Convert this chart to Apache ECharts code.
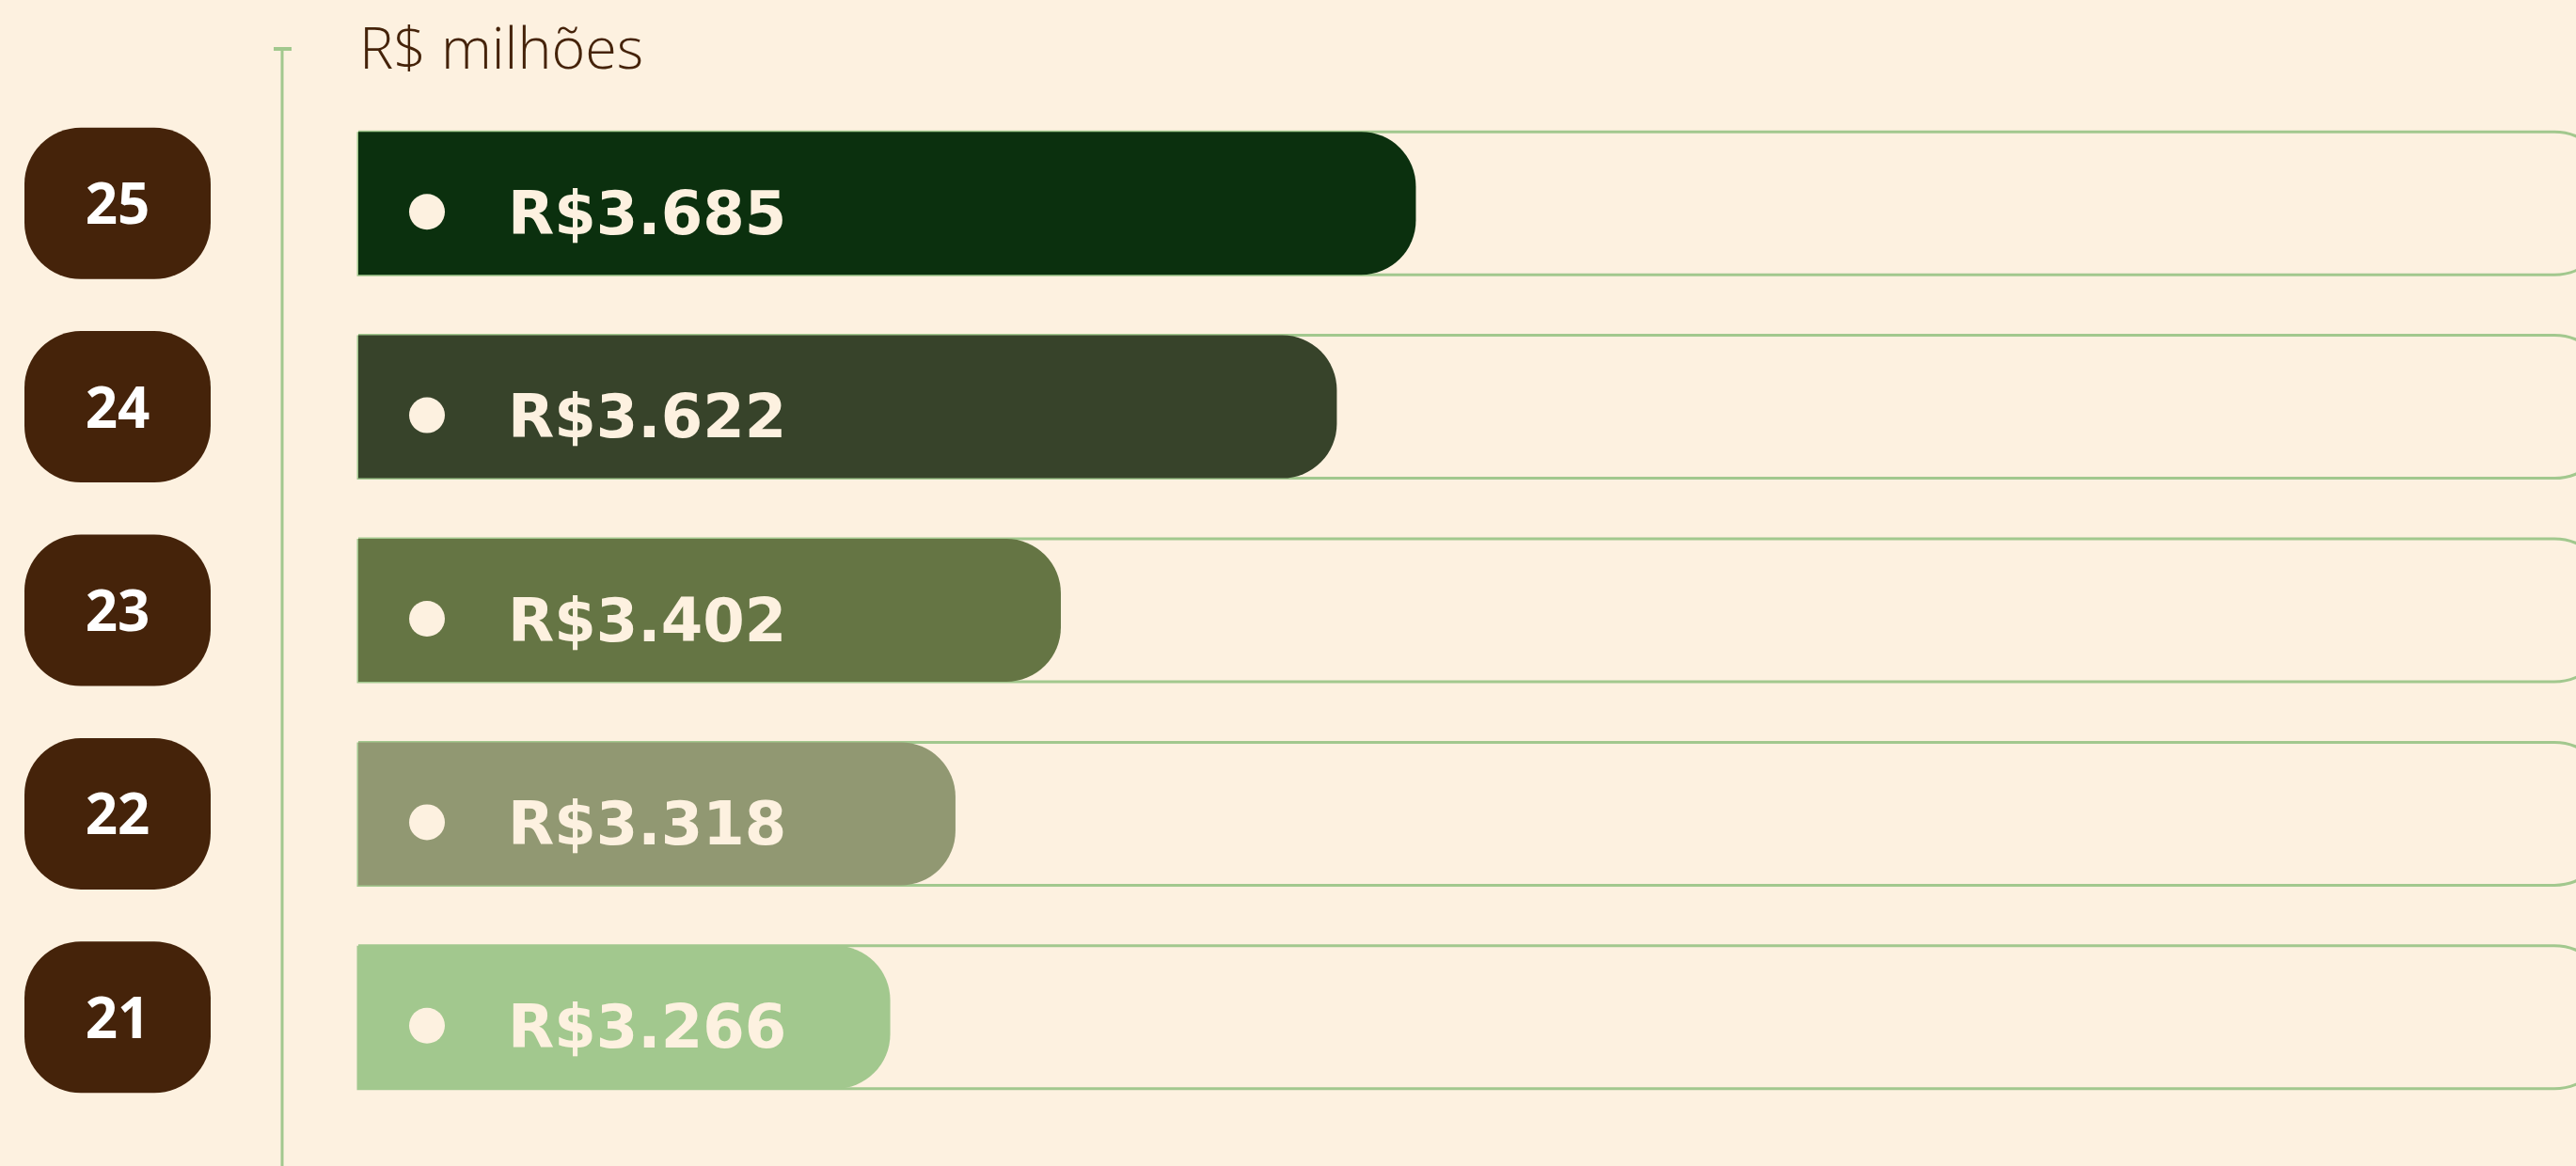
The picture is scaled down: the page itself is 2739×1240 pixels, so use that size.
<!DOCTYPE html>
<html>
<head>
<meta charset="utf-8">
<script src="https://cdn.jsdelivr.net/npm/echarts@6/dist/echarts.min.js"></script>
<style>
html,body{margin:0;padding:0;background:#fdf1e0;overflow:hidden;width:2739px;height:1240px;}
#c{width:2774px;height:1240px;}
</style>
</head>
<body>
<div id="c"></div>
<script>
// Data (bottom to top)
const categories = ['21', '22', '23', '24', '25'];
const values = [3266, 3318, 3402, 3622, 3685];
const barColors = ['#a2c88e', '#919872', '#657544', '#37432a', '#0b300e'];
const unitLabel = 'R$ milhões';

const bg = '#fdf1e0';
const green = '#a2c88e';
const brown = '#45230a';

function fmt(v) {
  return 'R$' + String(v).replace(/\B(?=(\d{3})+(?!\d))/g, '.');
}

const chart = echarts.init(document.getElementById('c'));
chart.setOption({
  backgroundColor: bg,
  animation: false,
  title: {
    text: unitLabel,
    left: 382,
    top: 25,
    padding: 0,
    textStyle: {
      fontFamily: 'Open Sans',
      fontWeight: 300,
      fontSize: 61,
      color: brown
    }
  },
  graphic: [
    { type: 'line', shape: { x1: 300, y1: 52, x2: 300, y2: 1240 }, style: { stroke: green, lineWidth: 3 } },
    { type: 'line', shape: { x1: 291, y1: 52, x2: 310, y2: 52 }, style: { stroke: green, lineWidth: 4 } }
  ],
  grid: { left: 381, right: 0, top: 108, bottom: 50, containLabel: false, outerBoundsMode: 'none' },
  xAxis: {
    type: 'value',
    min: 2842,
    max: 4636,
    show: false
  },
  yAxis: {
    type: 'category',
    data: categories,
    offset: 81,
    axisLine: { show: false },
    axisTick: { show: false },
    axisLabel: {
      margin: 76,
      formatter: v => '{b|' + v + '}',
      rich: {
        b: {
          width: 198,
          height: 151,
          lineHeight: 151,
          padding: [10, 0, 0, 0],
          backgroundColor: brown,
          borderRadius: 60,
          align: 'center',
          verticalAlign: 'middle',
          color: '#ffffff',
          fontFamily: 'Open Sans',
          fontWeight: 'bold',
          fontSize: 60
        }
      }
    }
  },
  series: [{
    type: 'bar',
    barWidth: 152,
    data: values.map((v, i) => ({ value: v, itemStyle: { color: barColors[i] } })),
    itemStyle: { borderRadius: [0, 58, 58, 0] },
    showBackground: true,
    backgroundStyle: {
      color: 'rgba(0,0,0,0)',
      borderColor: green,
      borderWidth: 3,
      borderRadius: [0, 58, 58, 0]
    },
    label: {
      show: true,
      position: 'insideLeft',
      distance: 54,
      offset: [0, 9],
      formatter: p => '{dot|}{sp|}{val|' + fmt(p.value) + '}',
      rich: {
        dot: { width: 38, height: 38, borderRadius: 19, backgroundColor: bg, verticalAlign: 'middle' },
        sp: { width: 67, height: 10, verticalAlign: 'middle' },
        val: {
          fontFamily: 'DejaVu Sans',
          fontWeight: 'bold',
          fontSize: 64,
          color: bg,
          padding: [14, 0, 0, 0],
          verticalAlign: 'middle'
        }
      }
    }
  }]
});
</script>
</body>
</html>
